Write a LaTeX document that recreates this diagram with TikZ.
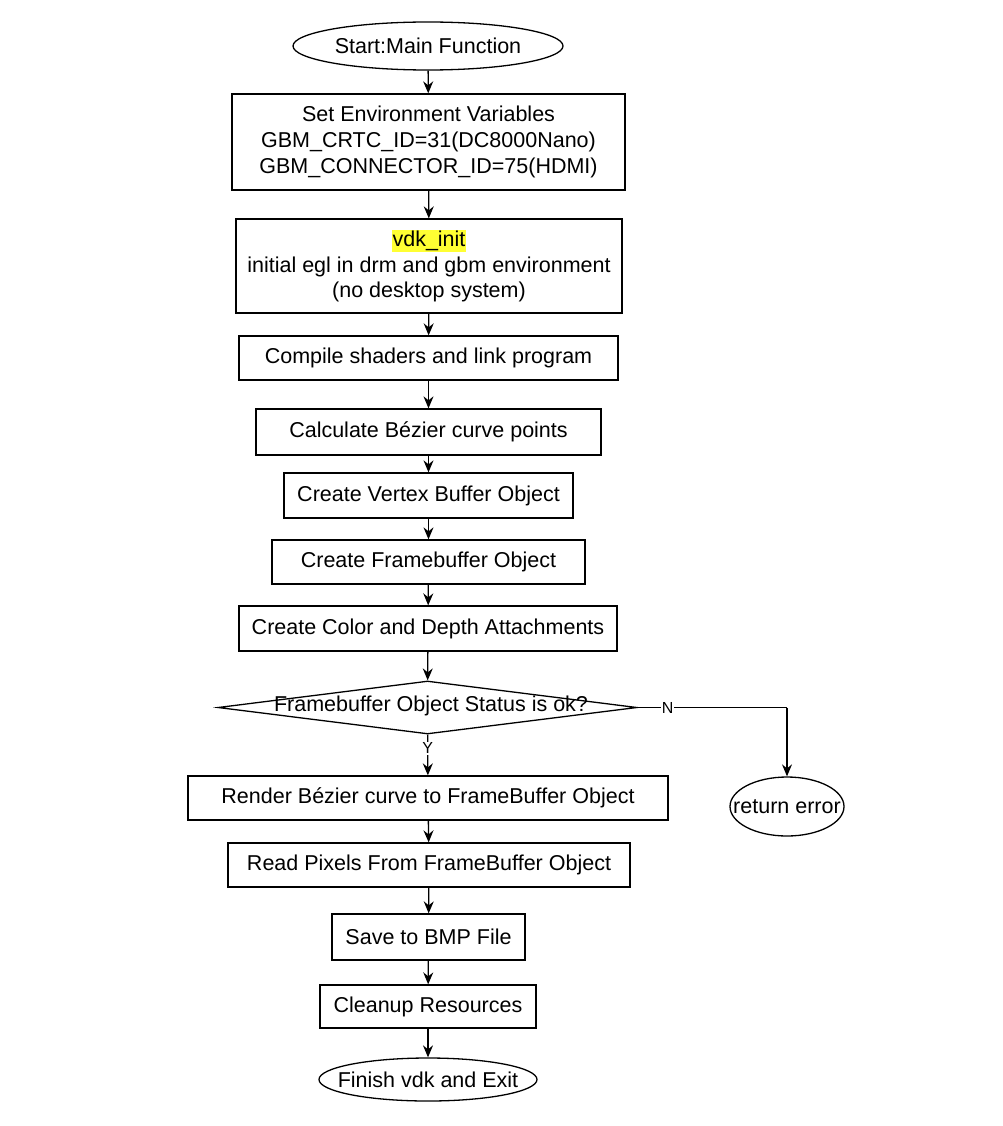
\documentclass[tikz,border=0pt]{standalone}
\usepackage{xcolor}
\usepackage{fontspec}
\setmainfont{Liberation Sans}
\usepackage{tikz}
\usetikzlibrary{shapes}
\usetikzlibrary{arrows.meta}
\definecolor{hilite}{HTML}{FFFF33}
\tikzset{
  proc node/.style={rectangle,draw,line width=1.3pt,align=center,inner sep=2pt,font=\fontsize{21.5}{25.8}\selectfont},
  term node/.style={ellipse,draw,line width=1.3pt,inner ysep=0pt,inner xsep=-20pt,font=\fontsize{21.5}{25}\selectfont},
  test node/.style={diamond,draw,line width=1.3pt,inner sep=0pt,aspect=8},
  branch/.style={fill=white,inner sep=1pt,font=\fontsize{16}{18}\selectfont}
}

\begin{document}
\begin{tikzpicture}[x=1pt,y=-1pt,line width=1.3pt,
        ->,>={Stealth[length=12pt,width=10pt,inset=4pt]}]
        \useasboundingbox (0,0) rectangle (1002,1126);
        \node [term node,minimum width=270,minimum height=48] (start) at (428,46) {Start:Main Function};
        \node [proc node,minimum width=393,minimum height=96] (env) at (428.5,142)
          {Set Environment Variables\\GBM\_CRTC\_ID=31(DC8000Nano)\\GBM\_CONNECTOR\_ID=75(HDMI)};
        \node [proc node,minimum width=386,minimum height=94] (init) at (429,266)
          {\setlength{\fboxsep}{1pt}\colorbox{hilite}{vdk\_init}\\initial egl in drm and gbm environment\\(no desktop system)};
        \node [proc node,minimum width=379,minimum height=44] (shader) at (428.5,358) {Compile shaders and link program};
        \node [proc node,minimum width=345,minimum height=46] (curve) at (428.5,432) {Calculate Bézier curve points};
        \node [proc node,minimum width=289,minimum height=45] (vbo) at (428.5,495.5) {Create Vertex Buffer Object};
        \node [proc node,minimum width=313,minimum height=44] (fbo) at (428.5,562) {Create Framebuffer Object};
        \node [proc node,minimum width=378,minimum height=45] (attach) at (428,628.5) {Create Color and Depth Attachments};
        \node [test node,minimum width=419,minimum height=53] (status) at (427.5,707.5) {};
        \node [font=\fontsize{21.5}{25}\selectfont] (statustext) at (431,706) {Framebuffer Object Status is ok?};
        \node [proc node,minimum width=480,minimum height=44] (render) at (428,798) {Render Bézier curve to FrameBuffer Object};
        \node [proc node,minimum width=402,minimum height=44] (pixels) at (429,865) {Read Pixels From FrameBuffer Object};
        \node [proc node,minimum width=193,minimum height=46] (bmp) at (428.5,937) {Save to BMP File};
        \node [proc node,minimum width=216,minimum height=43] (clean) at (428,1006.5) {Cleanup Resources};
        \node [term node,minimum width=218,minimum height=43] (finish) at (428,1079.5) {Finish vdk and Exit};
        \node [term node,minimum width=114,minimum height=59] (err) at (787,806.5) {return error};
        \coordinate (turn) at (787,707.5);

        % main chain
        \draw (start) -- (env);
        \draw (env) -- (init);
        \draw (init) -- (shader);
        \draw (shader) -- (curve);
        \draw (curve) -- (vbo);
        \draw (vbo) -- (fbo);
        \draw (fbo) -- (attach);
        \draw (attach) -- (status);
        \draw (status) -- node [branch,pos=0.33] {Y} (render);
        \draw (render) -- (pixels);
        \draw (pixels) -- (bmp);
        \draw (bmp) -- (clean);
        \draw (clean) -- (finish);
        % error branch
        \draw [-] (status.east) -- node [branch,pos=0.2] {N} (turn);
        \draw (turn) -- (err);
\end{tikzpicture}
\end{document}
